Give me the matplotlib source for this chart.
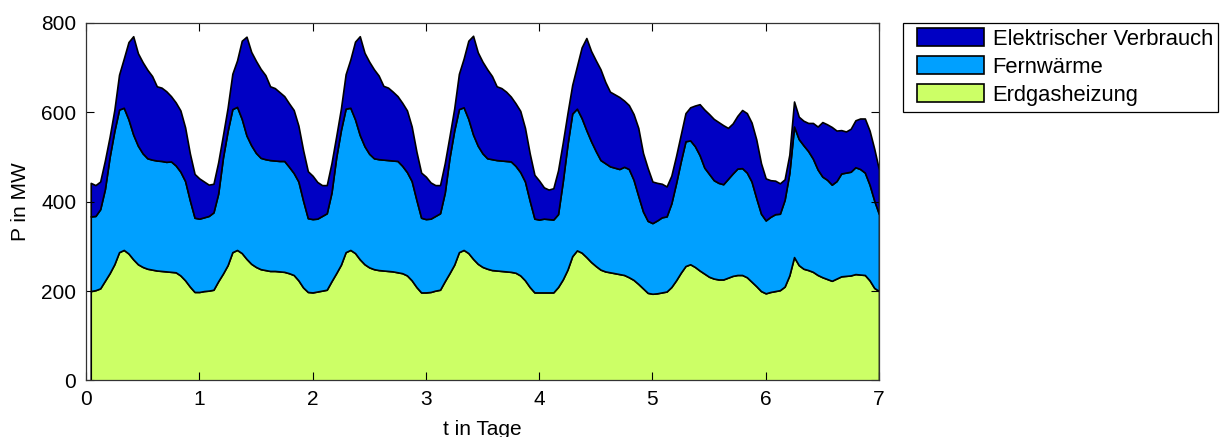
import matplotlib
matplotlib.use("Agg")
import matplotlib.pyplot as plt
from matplotlib.patches import Rectangle
import numpy as np

plt.rcParams["font.family"] = ["Liberation Sans", "DejaVu Sans"]

# stündliche Werte, t = Stunde/24 (Tag 0..6, je 24 Werte)
hours = np.arange(1, 169)

# Oberkante Erdgasheizung (MW)
erdgas = [
    200, 202, 206, 223, 240, 260, 287, 292, 284, 271, 260, 254, 250, 248, 246, 245, 244, 243, 242, 235, 224, 210, 198, 198,
    200, 201, 203, 222, 239, 258, 287, 292, 285, 272, 261, 254, 249, 247, 245, 245, 244, 243, 240, 236, 224, 208, 198, 197,
    199, 201, 203, 222, 240, 259, 287, 292, 285, 271, 260, 253, 249, 247, 246, 245, 244, 242, 240, 235, 224, 209, 197, 197,
    198, 201, 203, 222, 240, 259, 287, 292, 285, 272, 261, 254, 250, 247, 246, 245, 244, 243, 241, 235, 224, 209, 197, 197,
    197, 197, 197, 209, 226, 248, 278, 291, 286, 276, 265, 256, 248, 244, 242, 240, 238, 236, 231, 225, 216, 206, 196, 194,
    195, 197, 199, 209, 224, 241, 256, 260, 254, 246, 239, 232, 228, 226, 226, 230, 234, 236, 236, 231, 221, 211, 200, 195,
    198, 200, 202, 210, 235, 276, 258, 250, 247, 243, 236, 231, 227, 223, 228, 233, 234, 235, 238, 237, 236, 224, 207, 200,
]
# Oberkante Fernwärme (Erdgas + Fernwärme)
bis_fern = [
    367, 368, 383, 428, 500, 558, 606, 610, 584, 550, 525, 508, 497, 494, 492, 491, 489, 490, 481, 467, 446, 403, 364, 362,
    365, 368, 376, 418, 498, 558, 607, 612, 585, 548, 526, 509, 498, 495, 493, 492, 491, 491, 478, 464, 445, 402, 363, 361,
    362, 368, 374, 420, 499, 560, 608, 610, 584, 549, 524, 507, 497, 495, 494, 493, 492, 491, 480, 466, 446, 404, 364, 361,
    362, 368, 374, 420, 498, 559, 607, 611, 585, 550, 525, 508, 497, 495, 493, 492, 491, 490, 480, 466, 445, 402, 362, 360,
    362, 361, 360, 372, 445, 528, 597, 608, 587, 560, 535, 513, 493, 486, 479, 476, 473, 478, 473, 449, 413, 378, 357, 352,
    358, 365, 367, 396, 441, 490, 535, 537, 524, 504, 476, 462, 448, 442, 439, 451, 463, 474, 475, 465, 445, 408, 373, 358,
    366, 372, 373, 404, 464, 568, 540, 526, 513, 496, 472, 456, 449, 438, 446, 463, 465, 467, 477, 473, 465, 438, 402, 372,
]
# Gesamt (Oberkante elektrischer Verbrauch)
gesamt = [
    442, 437, 445, 492, 545, 605, 684, 720, 757, 770, 732, 712, 695, 681, 658, 655, 647, 636, 622, 604, 566, 508, 462, 452,
    445, 438, 440, 488, 548, 610, 686, 716, 760, 769, 735, 715, 697, 683, 658, 654, 645, 636, 620, 605, 570, 515, 468, 458,
    444, 437, 437, 486, 546, 608, 685, 718, 758, 770, 733, 713, 696, 682, 659, 655, 646, 636, 621, 604, 568, 512, 465, 456,
    443, 437, 437, 486, 546, 608, 686, 720, 760, 771, 734, 713, 696, 681, 658, 654, 646, 635, 620, 603, 565, 508, 460, 447,
    432, 427, 430, 470, 532, 598, 661, 703, 745, 766, 737, 716, 696, 668, 646, 640, 634, 626, 616, 596, 565, 509, 475, 445,
    442, 440, 434, 458, 502, 550, 598, 611, 615, 618, 606, 596, 585, 578, 571, 565, 575, 592, 605, 598, 577, 539, 486, 452,
    448, 447, 441, 450, 505, 624, 590, 581, 576, 576, 568, 578, 573, 567, 559, 560, 557, 563, 582, 586, 586, 559, 518, 471,
]

labels = ["Erdgasheizung", "Fernwärme", "Elektrischer Verbrauch"]
colors = ["#CCFF66", "#00A0FF", "#0000C4"]

t = hours / 24.0
gas = np.array(erdgas, float)
fern = np.array(bis_fern, float) - gas
elek = np.array(gesamt, float) - np.array(bis_fern, float)

fig = plt.figure(figsize=(12.2, 4.37), dpi=100)
ax = fig.add_axes([0.0705, 0.1293, 0.65, 0.8185])

ax.stackplot(t, gas, fern, elek, colors=colors, labels=labels,
             edgecolor="black", linewidth=1.2)

ax.set_xlim(0, 7)
ax.set_ylim(0, 800)
ax.set_xticks(range(8))
ax.set_yticks([0, 200, 400, 600, 800])
ax.tick_params(direction="in", length=5.5, width=0.8, top=True, right=True,
               labelsize=15, pad=7)
for s in ax.spines.values():
    s.set_linewidth(0.9)
    s.set_color("#333333")
ax.set_xlabel("t in Tage", fontsize=15, labelpad=8)
ax.set_ylabel("P in MW", fontsize=15, labelpad=8)

# Legendenrahmen separat (MATLAB-Stil: breiter Innenrand links)
fig.patches.append(Rectangle((903 / 1220, 1 - 111.7 / 437), 315 / 1220, 89 / 437,
                             transform=fig.transFigure, facecolor="white",
                             edgecolor="black", linewidth=0.9, zorder=0))
h, l = ax.get_legend_handles_labels()
leg = fig.legend(h[::-1], l[::-1], loc="upper left", bbox_to_anchor=(917 / 1220, 1 - 28 / 437),
                 bbox_transform=fig.transFigure, borderaxespad=0, borderpad=0,
                 fontsize=15.8, frameon=False,
                 handlelength=3.05, handleheight=0.88, handletextpad=0.4,
                 labelspacing=0.3)

fig.savefig("out.png", dpi=100)
